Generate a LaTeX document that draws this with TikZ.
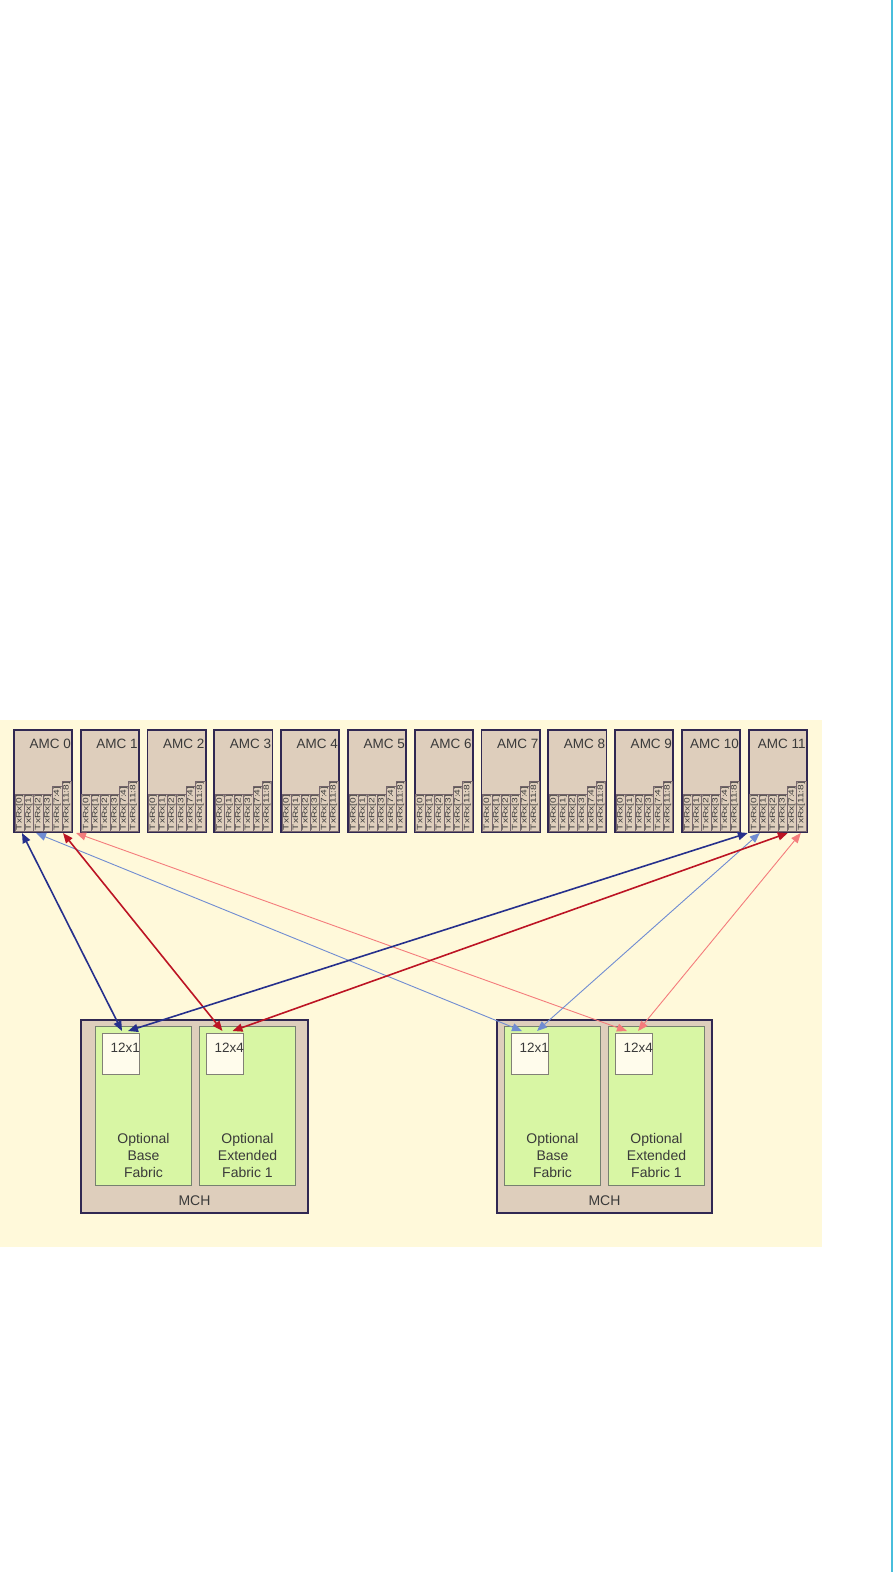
\documentclass[tikz,border=0pt]{standalone}
\usepackage{fontspec}
\setmainfont{Liberation Sans}
\usetikzlibrary{arrows.meta,positioning,calc}
\definecolor{bgyellow}{RGB}{255,249,218}
\definecolor{amctan}{RGB}{222,206,188}
\definecolor{boxline}{RGB}{48,40,82}
\definecolor{fabgreen}{RGB}{216,246,164}
\definecolor{fabline}{RGB}{118,128,112}
\definecolor{swwhite}{RGB}{255,252,236}
\definecolor{swline}{RGB}{130,128,118}
\definecolor{portline}{RGB}{120,104,110}
\definecolor{txtgray}{RGB}{58,58,58}
\definecolor{navyln}{RGB}{38,48,140}
\definecolor{skyln}{RGB}{112,140,210}
\definecolor{redln}{RGB}{188,20,36}
\definecolor{pinkln}{RGB}{244,124,124}
\definecolor{cyanline}{RGB}{72,190,220}
\newcommand{\portlbl}[1]{\scalebox{1.3}[1]{TxRx[#1]}}
\tikzset{main base/.style={draw=boxline,line width=1.8pt,fill=amctan,inner sep=0pt}, }
\tikzset{amc node/.style={rectangle,main base,minimum width=58.2pt,minimum height=102.2pt}, }
\tikzset{mch node/.style={rectangle,main base,minimum height=193.2pt}, }
\tikzset{fabric node/.style={rectangle,draw=fabline,line width=1.2pt,fill=fabgreen,
    minimum width=95.8pt,minimum height=158.8pt,inner sep=0pt}, }
\tikzset{switch node/.style={rectangle,draw=swline,line width=0.8pt,fill=swwhite,
    minimum width=37.2pt,minimum height=41.2pt,inner sep=0pt}, }
\tikzset{port cell/.style={rectangle,draw=portline,line width=0.4pt,rotate=90,anchor=west,
    minimum height=9.4pt,inner sep=0.7pt,text=txtgray,font=\fontsize{7.8}{8}\selectfont}, }
\tikzset{main text/.style={inner sep=0pt,text=txtgray,font=\fontsize{13.5}{15}\selectfont}, }
\tikzset{fabric text/.style={inner sep=0pt,text=txtgray,align=center,font=\fontsize{14}{17}\selectfont}, }
\tikzset{linea/.style={{Triangle[length=10pt,width=8pt]}-{Triangle[length=10pt,width=8pt]},line width=1.6pt,draw}}
\tikzset{linea2/.style={linea,line width=0.9pt}}
\begin{document}
\begin{tikzpicture}[x=1pt,y=-1pt]
  \fill[white] (0,0) rectangle (894,1572);
  \useasboundingbox (0,0) rectangle (894,1572);
  \fill[bgyellow] (0,720) rectangle (822,1247);
  \draw[cyanline,line width=2pt] (892,0) -- (892,1572);
  %
  % AMC row
  \node[amc node,anchor=north west] (amc0) at (13,729) {};
  \foreach \i [evaluate=\i as \p using int(\i-1)] in {1,...,11}
    \node[amc node] (amc\i) [right=6.8pt of amc\p] {};
  \foreach \i in {0,...,11}{
    \node[main text] (amc\i t) [below left=9.5pt and 2pt of amc\i.north east] {AMC \i};
    \foreach \k/\q in {0/0,1/1,2/2,3/3,4/7:4,5/11:8}
      \node[port cell] (amc\i p\k) at ($(amc\i.south west)+(6.5+9.4*\k,-2)$) {\portlbl{\q}};
  }
  %
  % MCH left
  \node[mch node,minimum width=227.2pt,anchor=north west] (mch1) at (80,1019) {};
  \node[fabric node] (mch1 base) [below right=7pt and 15pt of mch1.north west] {};
  \node[fabric node] (mch1 ext) [right=7pt of mch1 base] {};
  \node[switch node] (mch1 sw1) [below right=7pt and 7pt of mch1 base.north west] {};
  \node[switch node] (mch1 sw4) [below right=7pt and 7pt of mch1 ext.north west] {};
  \node[main text] (mch1 sw1 t) [below left=10pt and 0pt of mch1 sw1.north east] {12x1};
  \node[main text] (mch1 sw4 t) [below left=10pt and 0pt of mch1 sw4.north east] {12x4};
  \node[fabric text] (mch1 base t) [above=8pt of mch1 base.south] {Optional\\Base\\Fabric};
  \node[fabric text] (mch1 ext t) [above=8pt of mch1 ext.south] {Optional\\Extended\\Fabric 1};
  \node[main text,font=\fontsize{14}{15}\selectfont] (mch1 t) [above=8.5pt of mch1.south] {MCH};
  %
  % MCH right
  \node[mch node,minimum width=215.2pt,anchor=north west] (mch2) at (496,1019) {};
  \node[fabric node] (mch2 base) [below right=7pt and 8pt of mch2.north west] {};
  \node[fabric node] (mch2 ext) [right=7pt of mch2 base] {};
  \node[switch node] (mch2 sw1) [below right=7pt and 7pt of mch2 base.north west] {};
  \node[switch node] (mch2 sw4) [below right=7pt and 7pt of mch2 ext.north west] {};
  \node[main text] (mch2 sw1 t) [below left=10pt and 0pt of mch2 sw1.north east] {12x1};
  \node[main text] (mch2 sw4 t) [below left=10pt and 0pt of mch2 sw4.north east] {12x4};
  \node[fabric text] (mch2 base t) [above=8pt of mch2 base.south] {Optional\\Base\\Fabric};
  \node[fabric text] (mch2 ext t) [above=8pt of mch2 ext.south] {Optional\\Extended\\Fabric 1};
  \node[main text,font=\fontsize{14}{15}\selectfont] (mch2 t) [above=8.5pt of mch2.south] {MCH};
  %
  % links
  \path[linea2,draw=skyln] ([xshift=23pt]amc0.south west) -- ([xshift=-8pt,yshift=2pt]mch2 sw1.north);
  \path[linea2,draw=pinkln] ([xshift=63pt]amc0.south west) -- ([xshift=-7pt,yshift=2pt]mch2 sw4.north);
  \path[linea2,draw=skyln] ([xshift=12pt]amc11.south west) -- ([xshift=7pt,yshift=2pt]mch2 sw1.north);
  \path[linea2,draw=pinkln] ([xshift=53pt]amc11.south west) -- ([xshift=4pt,yshift=2pt]mch2 sw4.north);
  \path[linea,draw=navyln] ([xshift=9pt]amc0.south west) -- ([xshift=1pt,yshift=2pt]mch1 sw1.north);
  \path[linea,draw=redln] ([xshift=50pt]amc0.south west) -- ([xshift=-2.5pt,yshift=2pt]mch1 sw4.north);
  \path[linea,draw=navyln] ([xshift=0pt]amc11.south west) -- ([xshift=7pt,yshift=2pt]mch1 sw1.north);
  \path[linea,draw=redln] ([xshift=40pt]amc11.south west) -- ([xshift=7.5pt,yshift=2pt]mch1 sw4.north);
\end{tikzpicture}
\end{document}
